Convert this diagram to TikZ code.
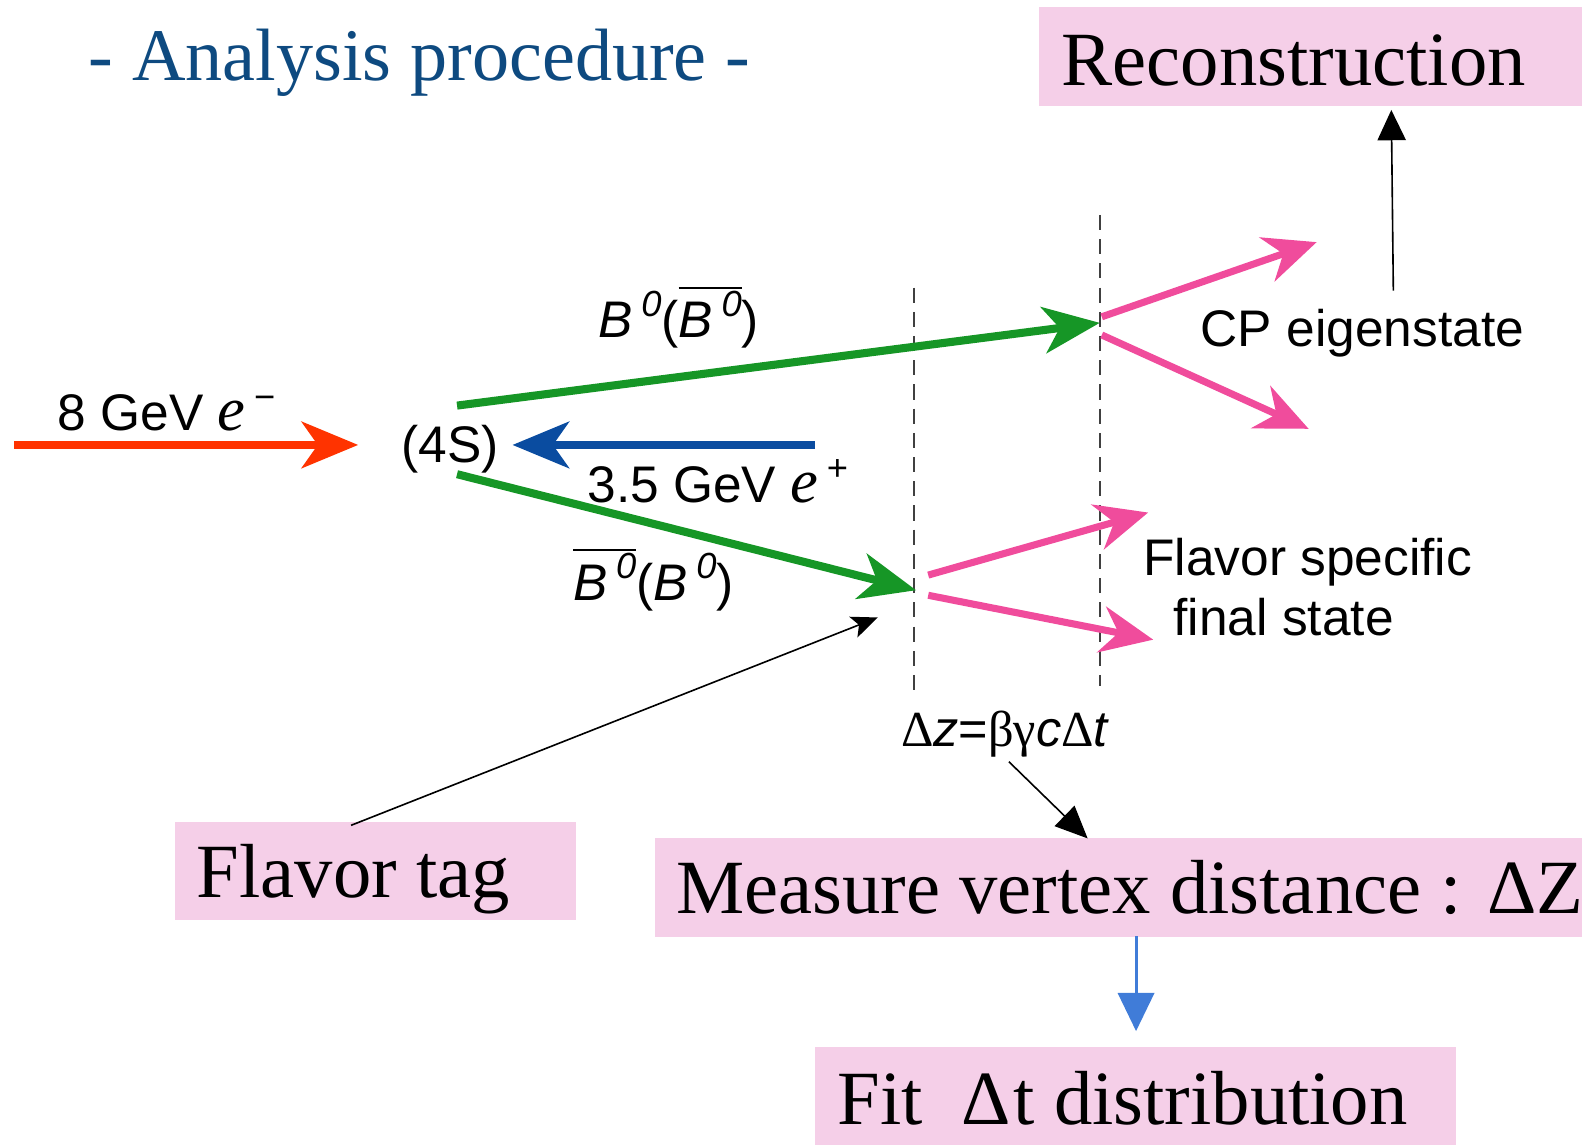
\documentclass[tikz,border=0pt]{standalone}
\usepackage{fontspec}
\setmainfont{Liberation Sans}
\newfontfamily\serif{Liberation Serif}
\usetikzlibrary{arrows.meta}
\definecolor{boxpink}{RGB}{245,207,232}
\definecolor{titleblue}{RGB}{14,74,128}
\definecolor{bgreen}{RGB}{22,150,38}
\definecolor{bred}{RGB}{255,51,0}
\definecolor{bblue}{RGB}{10,76,160}
\definecolor{bmag}{RGB}{240,76,156}
\definecolor{lblue}{RGB}{64,124,216}
\newcommand\obar[1]{\setbox0\hbox{#1}\rlap{\raisebox{0.95em}{\rule{\wd0}{0.045em}}}\box0}
\newcommand\upidx[1]{\,\raisebox{0.42em}{\fontsize{36}{40}\selectfont #1}}
\newcommand\Bz{\textit{B}\upidx{\textit{0}}}
\newcommand\ee{{\serif\itshape\fontsize{62}{62}\selectfont e}}
\begin{document}
\begin{tikzpicture}[x=1pt,y=-1pt,
  pinkbox/.style={fill=boxpink, draw=none, inner sep=0pt, anchor=north west},
  boxtext/.style={font=\serif\fontsize{76}{90}\selectfont, inner sep=0pt, anchor=base west},
  lbl/.style={font=\fontsize{51}{60}\selectfont, inner sep=0pt, anchor=base west},
  fat/.style={line width=8pt, -{Stealth[length=56pt,width=46pt,inset=16pt]}},
  pinkarr/.style={line width=7pt, bmag, -{Stealth[length=52pt,width=46pt,inset=17pt]}},
  thinarr/.style={line width=1.6pt, black},
  vline/.style={line width=2.2pt, black!75, dash pattern=on 15pt off 9pt}]
\useasboundingbox (0,0) rectangle (1568,1135);
\clip (0,0) rectangle (1568,1135);

% title
\node[font=\serif\fontsize{73.5}{80}\selectfont, text=titleblue, inner sep=0pt, anchor=base west] (title) at (88,80) {- Analysis procedure -};

% boxes
\node[pinkbox, minimum width=560pt, minimum height=98pt] (recon) at (1030,7) {};
\node[boxtext] (recont) at (1052,85) {Reconstruction};
\node[pinkbox, minimum width=398pt, minimum height=97pt] (ftag) at (173,815) {};
\node[boxtext] (ftagt) at (195,890) {Flavor tag};
\node[pinkbox, minimum width=940pt, minimum height=98pt] (meas) at (649,830) {};
\node[boxtext] (meast) at (670,905) {Measure vertex distance : ΔZ};
\node[pinkbox, minimum width=635pt, minimum height=97pt] (fit) at (808,1038) {};
\node[boxtext] (fitt) at (830,1115) {Fit\ \ Δ\hspace{3pt}t distribution};

% dashed vertex lines
\coordinate (d1t) at (906,285); \coordinate (d1b) at (906,685);
\coordinate (d2t) at (1090,213); \coordinate (d2b) at (1090,680);
\draw[vline] (d1t) -- (d1b);
\draw[vline] (d2t) -- (d2b);

% labels
\node[lbl] (ups) at (398,458) {(4S)};
\node[lbl] (eminus) at (57,427) {8 GeV \ee\upidx{−}};
\node[lbl] (eplus) at (582,498) {3.5 GeV \ee\upidx{+}};
\node[lbl] (bup) at (593,335) {\Bz(\obar{\Bz})};
\node[lbl] (bdn) at (568,595) {\obar{\Bz}(\Bz)};
\node[lbl] (cp) at (1190,343) {CP eigenstate};
\node[lbl] (fs1) at (1133,570) {Flavor specific};
\node[lbl] (fs2) at (1163,630) {final state};
\node[font=\fontsize{50}{58}\selectfont, inner sep=0pt, anchor=base west] (dz) at (893,740)
  {{\serif Δ}\textit{z}={\serif βγ}\textit{c}{\serif Δ}\textit{t}};

% beam arrows
\coordinate (rs) at (14,441); \coordinate (re) at (355,441);
\draw[fat, bred] (rs) -- (re);
\coordinate (bs) at (808,441); \coordinate (be) at (508,441);
\draw[fat, bblue] (bs) -- (be);

% B meson arrows
\coordinate (gus) at (453,402); \coordinate (vcp) at (1090,320);
\draw[fat, bgreen] (gus) -- (vcp);
\coordinate (gds) at (453,470); \coordinate (vfl) at (908,585);
\draw[fat, bgreen] (gds) -- (vfl);

% decay products
\coordinate (p1s) at (1092,314); \coordinate (p1e) at (1305,240);
\coordinate (p2s) at (1092,332); \coordinate (p2e) at (1297,425);
\coordinate (p3s) at (920,570);  \coordinate (p3e) at (1138,508);
\coordinate (p4s) at (920,590);  \coordinate (p4e) at (1143,634);
\draw[pinkarr] (p1s) -- (p1e);
\draw[pinkarr] (p2s) -- (p2e);
\draw[pinkarr] (p3s) -- (p3e);
\draw[pinkarr] (p4s) -- (p4e);

% annotation arrows
\coordinate (ra) at (1381,288); \coordinate (rb) at (1379,109);
\draw[thinarr, -{Triangle[length=30pt,width=28pt]}] (ra) -- (rb);
\coordinate (za) at (1000,755); \coordinate (zb) at (1078,831);
\draw[thinarr, -{Triangle[length=32pt,width=28pt]}] (za) -- (zb);
\coordinate (fa) at (348,818); \coordinate (fb) at (870,612);
\draw[thinarr, -{Stealth[length=26pt,width=22pt,inset=6pt]}] (fa) -- (fb);
\coordinate (ma) at (1126,928); \coordinate (mb) at (1126,1022);
\draw[line width=3pt, lblue, -{Triangle[length=38pt,width=36pt]}] (ma) -- (mb);
\end{tikzpicture}
\end{document}
